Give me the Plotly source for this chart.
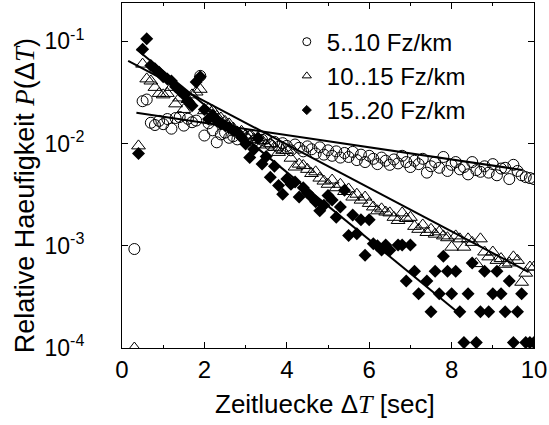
import plotly.graph_objects as go

# gap time (s)
dt = [0.3, 0.4, 0.5, 0.6, 0.7, 0.8, 0.9, 1.0, 1.1, 1.2,
      1.3, 1.4, 1.5, 1.6, 1.7, 1.8, 1.9, 2.0, 2.1, 2.2,
      2.3, 2.4, 2.5, 2.6, 2.7, 2.8, 2.9, 3.0, 3.1, 3.2,
      3.3, 3.4, 3.5, 3.6, 3.7, 3.8, 3.9, 4.0, 4.1, 4.2,
      4.3, 4.4, 4.5, 4.6, 4.7, 4.8, 4.9, 5.0, 5.1, 5.2,
      5.3, 5.4, 5.5, 5.6, 5.7, 5.8, 5.9, 6.0, 6.1, 6.2,
      6.3, 6.4, 6.5, 6.6, 6.7, 6.8, 6.9, 7.0, 7.1, 7.2,
      7.3, 7.4, 7.5, 7.6, 7.7, 7.8, 7.9, 8.0, 8.1, 8.2,
      8.3, 8.4, 8.5, 8.6, 8.7, 8.8, 8.9, 9.0, 9.1, 9.2,
      9.3, 9.4, 9.5, 9.6, 9.7, 9.8, 9.9, 10.0]

p_5_10 = [9.3e-4, None, 0.026, 0.027, 0.0160, 0.0152, 0.0167, 0.0155, 0.0174, 0.0140,
          0.0178, 0.0182, 0.0150, 0.0175, 0.0162, 0.0168, 0.046, 0.0120, 0.0158, 0.0135,
          0.0103, 0.0123, 0.0128, 0.0114, 0.0118, 0.0110, 0.0125, 0.0112, 0.0118, 0.0106,
          0.0102, 0.0109, 0.0112, 0.0097, 0.0104, 0.0093, 0.0101, 0.0095, 0.0086, 0.0098,
          0.0091, 0.0084, 0.0094, 0.0088, 0.0080, 0.0092, 0.0078, 0.0086, 0.0076, 0.0084,
          0.0073, 0.0081, 0.0074, 0.0083, 0.0069, 0.0078, 0.0066, 0.0076, 0.0071, 0.0063,
          0.0073, 0.0068, 0.0062, 0.0070, 0.0064, 0.0076, 0.0066, 0.0059, 0.0068, 0.0063,
          0.0071, 0.0052, 0.0060, 0.0066, 0.0058, 0.0074, 0.0054, 0.0062, 0.0066, 0.0056,
          0.0059, 0.0050, 0.0066, 0.0055, 0.0053, 0.0060, 0.0052, 0.0063, 0.0049, 0.0057,
          0.0058, 0.0045, 0.0062, 0.0054, 0.0049, 0.0047, 0.0046, 0.0045]

p_10_15 = [1.0e-4, 0.0095, 0.060, 0.043, 0.041, 0.0355, 0.031, 0.030, 0.031, 0.0355,
           0.0245, 0.028, 0.0216, 0.027, 0.030, 0.032, 0.034, 0.021, 0.022, 0.021,
           0.0185, 0.0178, 0.0165, 0.0156, 0.0142, 0.0128, 0.0132, 0.0121, 0.0119, 0.0110,
           0.0115, 0.0107, 0.0097, 0.0100, 0.0092, 0.0082, 0.0086, 0.0086, 0.0072, 0.0059,
           0.0063, 0.0061, 0.0056, 0.0051, 0.0053, 0.0046, 0.0043, 0.0040, 0.0044, 0.0037,
           0.0040, 0.0034, 0.0036, 0.0030, 0.0032, 0.0028, 0.0030, 0.0026, 0.0024, 0.0022,
           0.0023, 0.00214, 0.0021, 0.0019, 0.00177, 0.0021, 0.00185, 0.0019, 0.00155, 0.00145,
           0.0016, 0.00135, 0.00145, 0.0013, 0.00137, 0.00125, 0.0012, 0.00097, 0.00125, 0.00117,
           0.00097, 0.00117, 0.00108, 0.00067, 0.00117, 0.00087, 0.00078, 0.00087, 0.00072, 0.00075,
           0.00066, 0.00068, 0.00078, 0.00072, 0.00044, 0.00054, 0.00062, 0.00062]

p_15_20 = [None, 0.0080, 0.084, 0.106, 0.058, 0.054, 0.050, 0.045, 0.043, 0.041,
           0.036, 0.033, 0.030, 0.026, 0.0235, 0.040, 0.045, 0.0216, 0.0174, 0.0190,
           0.0167, 0.0156, 0.0150, 0.0144, 0.0135, 0.0129, 0.0115, 0.0099, 0.0073, 0.0088,
           0.0113, 0.0063, 0.0075, 0.0047, 0.0060, 0.0039, 0.0032, 0.0045, 0.0040, 0.0042,
           0.0030, 0.0037, 0.0033, 0.0030, 0.0027, 0.0022, 0.0025, 0.0031, 0.0028, 0.0019,
           0.0024, 0.0035, 0.00126, 0.0020, 0.00131, 0.0018, 0.00081, 0.0018, 0.00105, 0.00100,
           0.00091, 0.00102, 0.000904, None, 0.00102, 0.00102, 0.000452, 0.00102, 0.000565, 0.000339,
           None, 0.000452, 0.000226, 0.000565, 0.000339, 0.000791, 0.000565, 0.000339, 0.000565, 0.000226,
           0.000113, 0.000339, 0.000678, 0.000113, 0.000226, 0.000565, 0.000226, 0.000339, 0.000565, 0.000339,
           0.000226, 0.000452, 0.000113, 0.000226, 0.000339, 0.000113, 0.000113, 0.000113]

# exponential fits (end points)
fit_x_5_10 = [0.35, 9.71]
fit_y_5_10 = [0.0200, 0.00553]
fit_x_10_15 = [0.15, 9.87]
fit_y_10_15 = [0.0645, 0.000554]
fit_x_15_20 = [0.35, 8.15]
fit_y_15_20 = [0.084, 0.000224]

series_names = ["5..10 Fz/km", "10..15 Fz/km", "15..20 Fz/km"]
y_tickvals = [1e-4, 1e-3, 1e-2, 1e-1]
y_ticktext = ["10<sup>-4</sup>", "10<sup>-3</sup>", "10<sup>-2</sup>", "10<sup>-1</sup>"]

FONT = "Liberation Sans, Arial, sans-serif"
SERIF = "Liberation Serif"

def it(s):
    return "<i><span style='font-family:%s'>%s</span></i>" % (SERIF, s)

fig = go.Figure()
fig.add_trace(go.Scatter(x=dt, y=p_5_10, mode="markers", showlegend=False,
                         marker=dict(symbol="circle-open", size=11, color="black",
                                     line=dict(width=1, color="black"))))
fig.add_trace(go.Scatter(x=dt, y=p_10_15, mode="markers", showlegend=False,
                         marker=dict(symbol="triangle-up-open", size=12, color="black",
                                     line=dict(width=1, color="black"))))
fig.add_trace(go.Scatter(x=dt, y=p_15_20, mode="markers", showlegend=False,
                         marker=dict(symbol="diamond", size=10, color="black",
                                     line=dict(width=0))))
for fx, fy in [(fit_x_5_10, fit_y_5_10), (fit_x_10_15, fit_y_10_15), (fit_x_15_20, fit_y_15_20)]:
    fig.add_trace(go.Scatter(x=fx, y=fy, mode="lines", showlegend=False,
                             line=dict(color="black", width=2)))

# legend entries (smaller symbols like the original)
leg_symbols = ["circle-open", "triangle-up-open", "diamond"]
leg_sizes = [8, 8, 7]
for name, sym, sz in zip(series_names, leg_symbols, leg_sizes):
    fig.add_trace(go.Scatter(x=[None], y=[None], mode="markers", name=name,
                             marker=dict(symbol=sym, size=sz, color="black",
                                         line=dict(width=1, color="black"))))

fig.update_layout(
    width=549, height=425,
    margin=dict(l=122, r=12, t=2, b=77),
    paper_bgcolor="white", plot_bgcolor="white",
    font=dict(family=FONT, size=24, color="black"),
    legend=dict(x=0.4, y=0.952, xanchor="left", yanchor="top",
                bgcolor="rgba(0,0,0,0)", font=dict(size=24),
                itemsizing="trace", tracegroupgap=0),
    xaxis=dict(range=[0, 10], showline=True, linecolor="black", linewidth=1,
               mirror="ticks", ticks="inside", ticklen=6, tickwidth=1, tickcolor="black",
               tick0=0, dtick=2, showgrid=False, zeroline=False,
               minor=dict(dtick=1, ticks="inside", ticklen=3, tickcolor="black", showgrid=False),
               tickfont=dict(size=24), ticklabelstandoff=0, ticklabeloverflow="allow"),
    yaxis=dict(type="log", range=[-4, -0.624], showline=True, linecolor="black", linewidth=1,
               mirror="ticks", ticks="inside", ticklen=6, tickwidth=1, tickcolor="black",
               tickvals=y_tickvals, ticktext=y_ticktext, showgrid=False, zeroline=False,
               tickfont=dict(size=23), ticklabelstandoff=32, ticklabeloverflow="allow"),
    annotations=[
        dict(text="Zeitluecke \u0394" + it("T") + " [sec]", xref="paper", yref="paper",
             x=0.4916, y=-0.162, xanchor="center", yanchor="middle", showarrow=False,
             font=dict(size=26)),
        dict(text="Relative Haeufigkeit " + it("P") + "(\u0394" + it("T") + ")",
             xref="paper", yref="paper", x=-0.236, y=0.442, xanchor="center", yanchor="middle",
             textangle=-90, showarrow=False, font=dict(size=27)),
    ],
)

fig.write_html("out.html")
